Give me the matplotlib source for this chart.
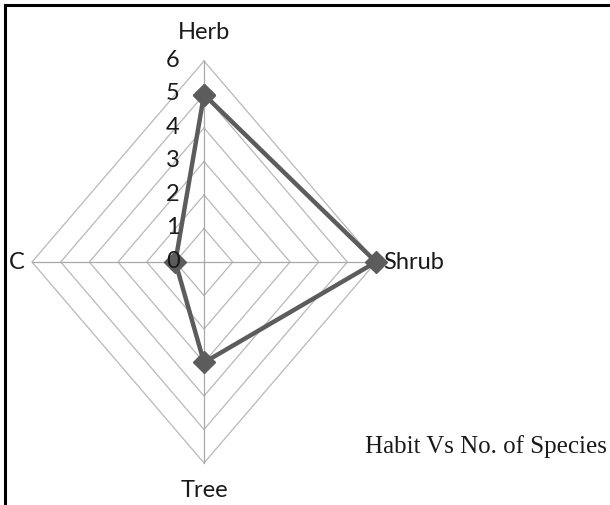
"""Radar chart: habit vs number of species."""

import numpy as np
import matplotlib
matplotlib.use('Agg')
import matplotlib.pyplot as plt
from matplotlib.lines import Line2D

# Data
categories = ["Herb", "Shrub", "Tree", "C"]
species_counts = [5, 6, 3, 1]
ring_levels = [1, 2, 3, 4, 5, 6]
tick_labels = ["0", "1", "2", "3", "4", "5", "6"]
chart_title = "Habit Vs No. of Species"

SANS = ["Lato", "DejaVu Sans"]
SERIF = ["Liberation Serif", "DejaVu Serif"]
GRID_COLOR = "#b8b8b8"
LINE_COLOR = "#5c5c5c"

fig = plt.figure(figsize=(6.10, 5.06), dpi=100)
ax = fig.add_axes([0, 0, 1, 1])
ax.set_axis_off()
# map data units to the stretched diamond of the original
ax.set_xlim(-7.116, 14.16)
ax.set_ylim(-7.254, 7.851)

# angles clockwise from the top
angles = np.arange(len(categories)) * 2 * np.pi / len(categories)
ux, uy = np.sin(angles), np.cos(angles)

# ring grid
for r in ring_levels:
    ax.plot(np.append(ux, ux[0]) * r, np.append(uy, uy[0]) * r,
            color=GRID_COLOR, lw=0.9, zorder=1)
# spokes
rmax = max(ring_levels)
for x, y in zip(ux, uy):
    ax.plot([0, x * rmax], [0, y * rmax], color="#a8a8a8", lw=0.9, zorder=1)

# series
vals = np.array(species_counts, dtype=float)
px, py = ux * vals, uy * vals
ax.plot(np.append(px, px[0]), np.append(py, py[0]), color=LINE_COLOR,
        lw=3.2, marker="D", markersize=11, markerfacecolor=LINE_COLOR,
        markeredgecolor=LINE_COLOR, zorder=3)

# radial tick labels along the top spoke
for i, lab in enumerate(tick_labels):
    ax.text(-0.85, i + 0.05, lab, ha="right", va="center", fontsize=17,
            family=SANS, color="#1a1a1a", zorder=4)

# category labels
offsets = [(0, 0.87, "center", "center"), (0.25, 0, "left", "center"),
           (0, -0.8, "center", "center"), (-0.25, 0, "right", "center")]
for lab, x, y, (dx, dy, ha, va) in zip(categories, ux, uy, offsets):
    ax.text(x * rmax + dx, y * rmax + dy, lab, ha=ha, va=va, fontsize=17,
            family=SANS, color="#1a1a1a")

ax.text(0.995, 0.117, chart_title, transform=ax.transAxes, ha="right",
        va="center", fontsize=18, family=SERIF, color="#1a1a1a")

# border lines on top and left
fig.add_artist(Line2D([0.009, 1.0], [0.988, 0.988], color="black", lw=2.2,
                      transform=fig.transFigure))
fig.add_artist(Line2D([0.009, 0.009], [0.0, 0.988], color="black", lw=2.2,
                      transform=fig.transFigure))

fig.savefig("out.png", dpi=100)
